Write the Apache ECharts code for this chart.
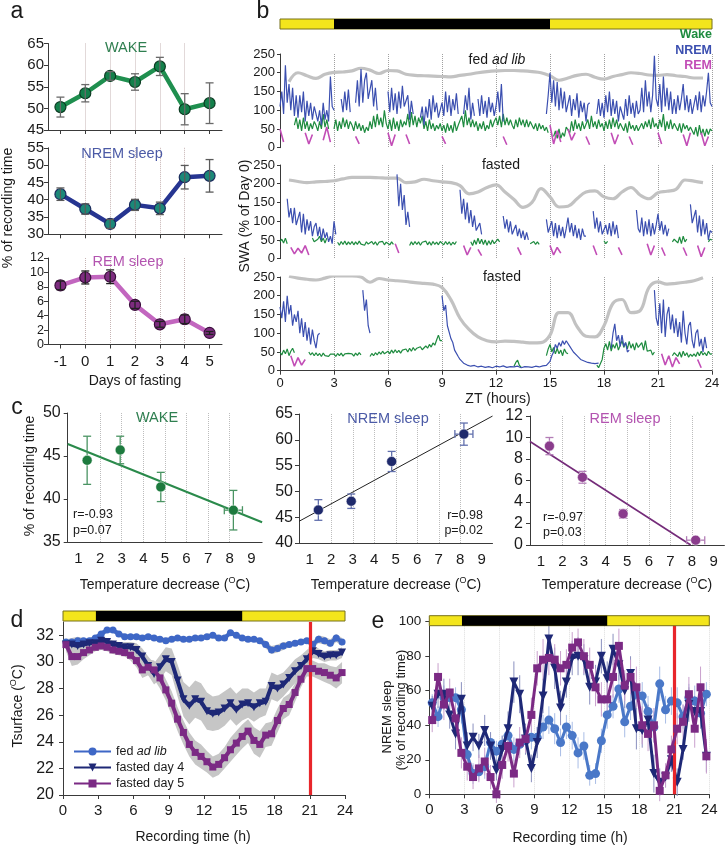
<!DOCTYPE html>
<html>
<head>
<meta charset="utf-8">
<script src="https://cdn.jsdelivr.net/npm/echarts@6/dist/echarts.min.js"></script>
<style>
html,body{margin:0;padding:0;background:#fff;}
#chart{width:727px;height:849px;}
</style>
</head>
<body>
<div id="chart"></div>
<script>
const _ = null;
/* ================= panel a ================= */
const fastDays = [-1, 0, 1, 2, 3, 4, 5];
const aRemTicks = [0, 2, 4, 6, 8, 10, 12];
const aWake = [50.3, 53.5, 57.5, 56.1, 59.7, 49.8, 51.2];
const aWakeErr = [2.3, 2.0, 1.0, 1.9, 2.1, 3.6, 4.7];
const aNrem = [41.6, 37.3, 33.0, 38.5, 37.5, 46.5, 46.9];
const aNremErr = [1.8, 1.5, 1.3, 1.6, 1.8, 3.4, 4.7];
const aRem = [8.2, 9.3, 9.4, 5.5, 2.8, 3.5, 1.6];
const aRemErr = [0.6, 0.9, 0.95, 0.5, 0.4, 0.6, 0.2];

/* ================= panel b ================= */
const bStep = 0.1;          // h between Wake / NREM SWA samples (one row = 1 h)
const bRemStep = 0.2;       // h between REM samples (one row = 1 h)
const bGrayStart = 0.5, bGrayStep = 0.5;
const bDark = [3, 15];
const bTopN = [
 110,150,90,220,120,170,100,160,85,140,
 80,140,95,150,70,125,85,120,75,110,
 110,70,100,60,120,75,100,70,190,110,
 100,_,_,_,130,95,150,100,155,95,
 _,_,120,180,110,210,120,180,200,130,
 130,180,110,160,100,_,_,_,_,_,
 150,95,160,100,145,90,150,105,165,110,
 110,140,75,125,90,_,_,_,80,110,
 60,110,80,130,75,140,95,120,80,100,
 120,85,150,95,140,85,130,100,145,90,
 _,_,90,140,100,160,75,120,85,_,
 130,85,140,90,125,80,135,95,120,85,
 110,150,95,170,70,_,_,_,_,_,
 _,_,_,_,_,_,_,_,_,_,
 _,_,_,_,_,_,_,_,90,140,
 200,120,180,110,175,100,160,105,150,95,
 90,140,85,130,100,145,80,125,95,120,
 70,115,120,_,_,_,90,130,85,120,
 80,140,95,150,85,130,90,125,70,110,
 110,75,130,85,140,90,120,80,125,90,
 100,160,95,180,110,150,95,140,245,130,
 110,170,95,190,110,160,100,150,90,130,
 90,140,100,130,170,100,140,95,130,90,
 90,140,100,150,95,140,110,150,200,120,
 110];
const bTopW = [
 _,_,_,_,_,_,_,_,60,80,
 50,75,45,80,50,70,45,65,50,70,
 60,45,70,50,90,55,75,50,_,_,
 50,75,45,70,50,80,55,75,50,70,
 60,45,70,50,65,45,60,40,55,45,
 70,50,85,55,90,60,80,55,100,65,
 50,75,45,80,50,70,45,75,55,70,
 60,90,55,95,60,85,55,80,65,85,
 50,70,45,75,50,65,45,60,50,65,
 45,60,40,65,45,60,40,70,45,60,
 60,85,55,100,60,80,55,75,55,70,
 45,65,50,70,45,60,50,75,55,70,
 80,60,85,55,90,60,80,60,75,60,
 50,75,55,80,60,75,55,75,55,70,
 70,50,65,45,65,50,60,45,55,40,
 _,_,30,45,25,50,25,40,30,55,
 60,40,70,45,75,50,65,45,70,50,
 55,75,50,85,55,70,50,75,55,65,
 45,70,50,75,50,80,55,75,50,65,
 60,45,65,40,70,50,60,45,60,45,
 45,65,50,70,55,75,50,80,55,65,
 50,75,55,90,45,70,50,75,50,65,
 60,45,65,40,65,50,60,45,55,45,
 35,55,30,60,35,50,30,50,35,50,
 45];
const bTopR = [50,15,_,_,_, _,_,40,10,35, _,_,20,55,15, _,_,_,_,_,
 _,30,10,_,_, _,_,_,_,_, 40,5,35,_,_, 35,10,_,_,_,
 _,_,_,_,_, 30,10,_,_,_, _,_,_,_,_, _,_,_,_,_,
 _,_,30,8,_, _,_,_,_,_, _,_,_,_,_, 60,10,45,15,_,
 50,20,40,_,_, 30,8,_,_,_, _,_,40,10,35, _,_,30,8,_,
 _,_,_,_,_, 40,10,_,_,_, _,_,35,5,40, _,_,40,5,30, _];
const bMidN = [
 _,_,_,_,160,110,135,95,136,90,
 90,125,70,120,65,105,75,100,60,85,
 95,60,85,50,80,55,70,45,60,40,
 100,65,_,_,_,_,_,_,_,_,
 _,_,_,_,_,_,_,_,_,_,
 _,_,_,_,_,_,_,_,_,_,
 _,_,_,_,_,225,140,200,130,170,
 90,125,85,_,_,_,_,_,_,_,
 _,_,_,_,_,_,_,_,_,_,
 _,_,_,_,_,_,_,_,_,_,
 184,120,160,105,150,95,130,85,115,75,
 70,95,65,_,_,_,_,_,_,_,
 _,_,_,_,114,80,105,70,100,65,
 70,90,60,80,55,75,50,70,50,_,
 _,_,_,_,_,_,_,_,105,70,
 70,100,60,95,55,90,60,85,55,80,
 110,70,95,60,90,55,80,50,80,60,
 60,_,_,_,127,80,110,70,100,65,
 60,90,65,95,60,100,65,90,55,_,
 _,_,_,_,_,_,_,_,130,80,
 70,110,60,100,65,105,60,95,65,90,
 120,75,100,65,90,60,80,_,_,_,
 _,_,_,_,_,_,_,_,145,95,
 90,130,70,115,60,105,65,95,50,75,
 70];
const bMidW = [
 45,52,42,55,40,_,_,_,_,_,
 _,_,_,_,_,_,_,_,55,45,
 40,52,60,45,55,42,55,_,_,_,
 _,_,44,36,46,38,47,37,45,38,
 46,37,45,38,47,39,44,36,45,39,
 37,46,38,45,36,44,39,46,37,44,
 42,37,45,38,_,_,_,_,_,_,
 _,_,35,45,37,46,38,45,36,44,
 40,47,37,45,36,46,38,44,37,46,
 45,37,46,38,45,36,44,38,46,_,
 _,_,_,_,_,_,45,35,50,38,
 55,40,52,38,50,36,48,38,50,40,
 40,52,45,_,_,_,_,_,_,_,
 _,_,_,_,_,_,_,_,_,40,
 40,46,38,45,38,_,_,_,_,_,
 _,_,_,_,_,_,_,_,_,_,
 _,_,_,_,_,_,_,_,_,_,
 _,_,_,_,_,_,_,_,_,_,
 48,40,46,_,_,_,_,_,_,_,
 _,_,_,_,_,_,_,_,_,_,
 _,_,_,_,_,_,_,_,_,_,
 _,_,_,_,_,_,_,_,45,52,
 55,42,58,40,60,45,52,_,_,_,
 _,_,_,_,_,_,_,_,45,52,
 50];
const bMidR = [_,_,_,30,13, 28,15,35,10,_, _,_,_,_,_, _,_,_,_,_,
 _,_,_,_,_, _,_,_,_,_, _,_,40,15,_, _,_,_,_,_,
 _,_,_,_,_, _,_,_,_,_, _,35,10,30,_, 25,8,_,_,_,
 _,_,_,_,_, _,30,10,_,_, _,_,_,_,_, 35,10,30,15,_,
 _,_,_,_,_, _,_,35,10,_, _,_,_,_,30, 10,_,_,_,_,
 _,_,40,10,35, _,30,8,_,_, _,_,30,8,_, _,35,5,30,_, _];
const bBotN = [
 170,140,185,130,200,150,175,120,150,130,
 160,100,140,90,130,80,115,70,110,80,
 60,95,100,_,_,_,_,_,_,_,
 _,_,_,_,_,_,_,_,_,_,
 _,_,_,_,_,_,215,160,190,120,
 100,_,_,_,_,_,_,_,_,_,
 _,_,_,_,_,_,_,_,_,_,
 _,_,_,_,_,_,_,_,_,_,
 _,_,_,_,_,_,_,_,_,_,
 200,160,175,120,120,85,75,55,50,38,
 30,25,20,18,15,13,12,14,14,11,
 10,12,12,9,9,11,11,8,8,10,
 12,11,10,12,13,10,9,11,11,12,
 10,11,12,9,8,10,11,12,10,9,
 9,10,12,11,10,12,13,12,14,18,
 25,40,50,70,60,75,65,80,70,80,
 75,65,70,50,55,40,40,30,32,26,
 25,22,24,20,22,19,23,20,_,_,
 _,_,_,_,60,100,125,80,95,65,
 95,65,75,50,55,_,_,_,_,_,
 _,_,_,_,_,_,_,_,215,140,
 120,180,100,190,90,150,170,110,150,100,
 140,90,130,75,160,100,70,120,130,80,
 60,100,110,65,85,50,90,60,_,_,
 _];
const bBotW = [
 50,42,55,45,58,40,52,60,48,_,
 _,_,_,_,_,_,50,42,48,40,
 48,40,46,38,47,40,45,38,44,40,
 44,38,46,40,47,39,45,40,46,41,
 45,39,47,41,48,42,_,_,_,_,
 38,46,40,48,42,50,44,52,45,50,
 52,45,55,47,56,48,54,47,55,50,
 58,50,60,52,62,54,60,55,64,56,
 58,66,60,70,63,74,68,82,95,80,
 80,_,_,_,_,_,_,_,_,_,
 _,_,_,_,_,_,_,_,_,_,
 _,_,_,_,_,_,_,_,_,_,
 _,_,_,_,_,_,_,_,_,_,
 12,22,28,14,10,_,_,_,_,_,
 _,_,_,_,_,_,_,_,40,58,
 70,50,62,45,60,45,55,40,58,48,
 45,_,_,_,_,_,_,_,_,_,
 _,_,_,_,_,_,15,8,5,30,
 60,72,55,78,52,70,60,75,55,68,
 80,62,75,58,78,60,72,55,75,62,
 60,75,55,80,52,48,55,42,50,_,
 _,_,_,_,_,_,_,_,40,48,
 45,38,50,36,52,40,48,36,44,38,
 45,38,50,40,52,42,48,40,52,44,
 45];
const bBotR = [_,_,_,40,12, 35,15,30,_,_, _,_,_,_,_, _,_,_,_,_,
 _,_,_,_,_, _,_,_,_,_, _,_,_,_,_, _,_,_,_,_,
 _,_,_,_,_, _,_,_,_,_, _,_,_,_,_, _,_,_,_,_,
 _,_,_,_,_, _,_,_,_,_, _,_,_,_,_, _,_,_,_,_,
 _,_,_,_,_, _,_,_,_,_, _,_,_,_,_, _,_,_,_,_,
 _,_,_,_,_, _,45,15,40,10, 35,18,_,_,_, _,30,8,_,_, _];
const bGrayTop = [176,200,192,185,196,201,202,205,212,207,198,206,205,196,193,192,191,190,189,193,196,200,203,205,206,206,205,203,200,192,180,186,193,196,188,183,190,195,200,198,194,193,195,192,190,186,186];
const bGrayMid = [210,206,203,205,206,208,213,217,217,217,216,215,215,203,205,212,208,205,203,195,173,178,190,197,178,158,137,150,187,165,138,140,160,178,181,165,160,178,190,170,160,176,180,185,210,207,203];
const bGrayBot = [252,247,244,242,247,253,253,253,250,236,246,242,240,238,235,233,231,222,189,140,110,90,80,77,79,78,76,74,75,95,155,155,118,92,90,120,180,190,155,160,222,237,231,233,236,240,248];

/* ================= panel c ================= */
const cTicks = [1, 2, 3, 4, 5, 6, 7, 8, 9];
const tempDrop = [1.4, 2.93, 4.81, 8.17];
const tempDropErr = [0, 0, 0, 0.42];
const cWake = [44.5, 45.7, 41.4, 38.7];
const cWakeErr = [2.8, 1.6, 1.7, 2.3];
const cNrem = [46.4, 48.1, 55.8, 61.1];
const cNremErr = [2.0, 1.4, 1.95, 2.15];
const cRem = [9.2, 6.3, 2.9, 0.45];
const cRemErr = [0.8, 0.55, 0.4, 0.1];
const cWakeFit = [[0.5, 46.4], [9.5, 37.3]];
const cNremFit = [[0.5, 44.2], [9.5, 64.6]];
const cRemFit = [[0.5, 9.63], [7.94, 0]];

/* ================= panels d, e ================= */
const binStart = 0.25, binWidth = 0.5;
const deDark = [2.8, 15.25];
const redLineT = 21;
const dTicksY = [20, 22, 24, 26, 28, 30, 32];
const dFed = [31.5,31.5,31.6,31.6,31.6,31.8,32.1,32.4,32.4,32.1,31.9,31.9,31.9,31.8,31.9,31.8,31.7,31.6,31.7,31.8,31.7,31.7,31.8,31.8,31.9,32.0,31.8,31.8,32.2,32.0,31.8,31.7,31.7,31.6,31.3,30.9,31.0,31.2,31.3,31.4,31.5,31.6,31.3,31.7,31.6,31.4,31.8,31.5];
const dFedSem = [0.2,0.3,0.3,0.2,0.2,0.2,0.2,0.2,0.2,0.2,0.2,0.2,0.2,0.2,0.2,0.2,0.2,0.2,0.2,0.2,0.2,0.2,0.2,0.2,0.2,0.2,0.2,0.2,0.2,0.2,0.2,0.2,0.2,0.2,0.3,0.3,0.3,0.3,0.2,0.2,0.2,0.2,0.3,0.3,0.3,0.3,0.3,0.3];
const dDay4 = [31.3,31.3,31.2,31.3,31.4,31.4,31.6,31.5,31.3,31.2,31.1,31.1,30.9,30.4,29.7,29.1,29.6,30.2,30.0,28.6,27.2,26.7,27.2,27.0,26.3,26.1,26.2,26.5,26.9,26.4,26.8,26.9,26.6,26.9,27.0,28.2,28.0,28.3,28.8,29.3,29.7,30.2,30.8,30.6,30.4,30.5,30.5,30.7];
const dDay4Sem = [0.3,0.3,0.3,0.3,0.3,0.3,0.3,0.3,0.3,0.3,0.4,0.4,0.5,0.6,0.7,0.8,0.9,0.9,1.0,1.2,1.3,1.4,1.4,1.4,1.4,1.3,1.3,1.3,1.2,1.2,1.2,1.1,1.1,1.1,1.0,1.0,1.0,0.9,0.9,0.9,0.8,0.7,0.5,0.4,0.4,0.4,0.4,0.4];
const dDay5 = [31.3,30.4,30.4,30.7,30.9,31.1,31.2,31.1,30.9,30.8,30.7,30.5,30.1,29.4,29.6,29.4,28.8,27.9,26.9,25.7,24.7,23.8,23.2,22.9,22.5,22.1,22.3,22.8,23.4,23.9,24.4,24.8,24.1,23.8,24.5,24.6,25.6,26.5,26.8,27.7,28.7,29.5,29.5,29.3,29.2,29.0,28.8,29.2];
const dDay5Sem = [0.5,0.7,0.6,0.5,0.4,0.3,0.3,0.3,0.3,0.3,0.3,0.4,0.5,0.6,0.6,0.7,0.8,0.8,0.9,0.9,0.9,0.9,0.9,0.9,0.8,0.8,0.8,0.8,0.9,0.9,0.9,0.9,1.0,1.0,0.9,0.9,0.9,0.8,0.8,0.7,0.6,0.6,0.6,0.6,0.7,0.7,0.8,0.8];
const eFed = [53,45,56,56,56,49,23,12,13,16,30,25,29,34,26,29,31,33,33,39,43,38,30,39,34,24,28,11,12,31,46,51,61,42,51,58,57,48,39,64,49,54,53,45,56,54,47,58];
const eFedSem = [5,6,7,5,6,8,8,6,5,7,6,6,5,6,7,6,8,7,6,7,8,9,8,7,8,9,8,6,6,7,8,7,8,9,8,7,8,9,9,10,8,8,9,7,8,9,8,7];
const eDay4 = [51,58,58,46,35,55,28,33,28,37,28,14,26,38,65,58,32,15,30,57,90,73,50,65,79,80,78,62,65,80,67,84,75,60,70,38,37,43,12,7,10,20,7,26,52,48,48,22];
const eDay4Sem = [6,8,9,8,9,10,8,8,7,9,8,6,8,10,12,11,9,8,9,10,8,12,10,9,10,11,9,10,10,10,10,9,9,10,10,12,10,9,11,8,6,7,8,6,10,9,10,9];
const eDay5 = [43,68,52,59,44,24,16,10,15,19,10,0,17,28,12,30,32,46,73,78,79,78,73,75,85,88,80,75,62,55,55,68,86,63,68,62,40,35,40,2,11,26,38,42,58,38,62,22];
const eDay5Sem = [7,8,9,8,9,9,8,7,8,8,7,5,8,9,8,9,8,10,10,12,10,9,10,9,9,8,10,10,11,10,10,12,10,9,10,12,11,10,10,6,7,8,9,10,10,11,12,10];

/* ================= helpers ================= */
const FONT = '"Liberation Sans", Arial, Helvetica, sans-serif';
const AXC = '#3a3a3a', TXT = '#1a1a1a';
const C = {
  wake:'#1e8b3f', nrem:'#3b4fb0', rem:'#c24db6',
  fed:'#3e67c6', d4:'#1e2876', d5:'#7b2a84'
};
const binT = dFed.map((v, i) => binStart + i * binWidth);
const stepPts = (arr, step) => arr.map((v, i) => [Math.round(i * step * 100) / 100, v === null ? '-' : v]);
const gPts = arr => arr.map((v, i) => [bGrayStart + i * bGrayStep, v]);

function errItem(color, cap, lw) {
  return function (params, api) {
    const x = api.value(0), y = api.value(1);
    const lo = api.coord([x, api.value(2)]), hi = api.coord([x, api.value(3)]);
    const st = {stroke: color, lineWidth: lw};
    const ch = [{type:'line', shape:{x1:lo[0], y1:lo[1], x2:hi[0], y2:hi[1]}, style:st}];
    if (cap > 0) {
      ch.push({type:'line', shape:{x1:lo[0]-cap, y1:lo[1], x2:lo[0]+cap, y2:lo[1]}, style:st});
      ch.push({type:'line', shape:{x1:hi[0]-cap, y1:hi[1], x2:hi[0]+cap, y2:hi[1]}, style:st});
    }
    const xl = api.value(4), xh = api.value(5);
    if (xh > xl) {
      const l = api.coord([xl, y]), h = api.coord([xh, y]);
      ch.push({type:'line', shape:{x1:l[0], y1:l[1], x2:h[0], y2:h[1]}, style:st});
      ch.push({type:'line', shape:{x1:l[0], y1:l[1]-cap, x2:l[0], y2:l[1]+cap}, style:st});
      ch.push({type:'line', shape:{x1:h[0], y1:h[1]-cap, x2:h[0], y2:h[1]+cap}, style:st});
    }
    return {type:'group', children: ch};
  };
}
function errSeries(gi, xs, ys, es, xes, color, cap, lw, z) {
  return {type:'custom', xAxisIndex:gi, yAxisIndex:gi, z, silent:true, clip:false,
    renderItem: errItem(color, cap, lw),
    data: xs.map((x, i) => [x, ys[i], ys[i]-es[i], ys[i]+es[i], x-(xes ? xes[i] : 0), x+(xes ? xes[i] : 0)])};
}
function lightBar(gi, dark) {
  return {type:'custom', xAxisIndex:gi, yAxisIndex:gi, z:20, silent:true, clip:false,
    data:[[0, 24, 0], [dark[0], dark[1], 1]],
    renderItem: (p, api) => {
      const p0 = api.coord([api.value(0), 1]), p1 = api.coord([api.value(1), 0]);
      return {type:'rect', shape:{x:p0[0], y:p0[1], width:p1[0]-p0[0], height:p1[1]-p0[1]},
        style: api.value(2) ? {fill:'#000'} : {fill:'#f3e51c', stroke:'#77701a', lineWidth:1}};
    }};
}
function band(gi, mean, sem, z) {
  return {type:'custom', xAxisIndex:gi, yAxisIndex:gi, z, silent:true, data:[[0, 0]],
    renderItem: (p, api) => {
      const up = mean.map((m, i) => api.coord([binT[i], m + sem[i]]));
      const lo = mean.map((m, i) => api.coord([binT[i], m - sem[i]])).reverse();
      return {type:'polygon', shape:{points: up.concat(lo)}, style:{fill:'#c6c6c6'}};
    }};
}
function hidden(gi, min, max) { return {type:'value', gridIndex:gi, min, max, show:false}; }
function yAx(gi, min, max, iv, fs, margin, extra) {
  return Object.assign({type:'value', gridIndex:gi, min, max, interval:iv,
    axisLine:{show:true, onZero:false, lineStyle:{color:AXC, width:1}},
    axisTick:{show:true, inside:false, length:4, lineStyle:{color:AXC}},
    axisLabel:{show:true, interval:0, showMinLabel:true, showMaxLabel:true, hideOverlap:false,
      fontSize:fs, lineHeight:Math.round(fs * 0.8), color:TXT, margin, fontFamily:FONT},
    splitLine:{show:false}}, extra || {});
}
const isInt = v => Math.abs(v - Math.round(v)) < 1e-6;
function txt(x, y, text, o) {
  o = o || {};
  const st = {text, fill:o.color || TXT, fontSize:o.size || 14, fontFamily:FONT,
    fontWeight:o.weight || 'normal', fontStyle:o.italic ? 'italic' : 'normal',
    align:o.align || 'center', textAlign:o.align || 'center',
    verticalAlign:'middle', textVerticalAlign:'middle'};
  if (o.rich) st.rich = o.rich;
  return {type:'text', x, y, rotation:o.rot || 0, silent:true, z:100, style:st};
}
const supRich = (fs) => ({
  n:{fontSize:fs, fontFamily:FONT, color:TXT, lineHeight:fs + 3},
  s:{fontSize:Math.round(fs * 0.65), fontFamily:FONT, color:TXT, lineHeight:Math.round(fs * 0.65), verticalAlign:'top'}
});

/* ================= grids ================= */
const G = [
  {left:48, top:43.5, width:174, height:86.5},     // 0 a wake
  {left:48, top:147.8, width:174, height:86.5},    // 1 a nrem
  {left:48, top:258, width:174, height:86.5},      // 2 a rem
  {left:280, top:19, width:432, height:10},        // 3 b bar
  {left:280, top:54, width:432, height:93.7},      // 4 b top
  {left:280, top:165, width:432, height:93.7},     // 5 b mid
  {left:280, top:277, width:432, height:93.7},     // 6 b bot
  {left:67.7, top:413, width:194.4, height:129},   // 7 c wake
  {left:299, top:414, width:193.5, height:129},    // 8 c nrem
  {left:530, top:416, width:194.4, height:129},    // 9 c rem
  {left:63, top:611, width:282, height:10},        // 10 d bar
  {left:63, top:622, width:282, height:173},       // 11 d
  {left:429.3, top:615.7, width:280, height:10},   // 12 e bar
  {left:429.3, top:621.7, width:280, height:172.6} // 13 e
].map(g => Object.assign({containLabel:false, outerBoundsMode:'none', show:false}, g));

const xA = [], yA = [];
// panel a
for (let gi = 0; gi < 3; gi++) {
  xA.push({type:'value', gridIndex:gi, min:-1.5, max:5.5, splitNumber:7,
    axisLine:{show:true, onZero:false, lineStyle:{color:AXC}},
    axisTick:{show:true, inside:false, length:4, customValues:fastDays, lineStyle:{color:AXC}},
    axisLabel:{show:gi === 2, customValues:fastDays, fontSize:15, color:TXT, margin:10, fontFamily:FONT,
      formatter: v => isInt(v) ? String(Math.round(v)) : ''},
    splitLine:{show:true, showMinLine:false, showMaxLine:false, lineStyle:{color:'#c6b4b4', type:'dotted', width:1}}});
}
yA.push(yAx(0, 45, 65, 5, 15, 4));
yA.push(yAx(1, 30, 55, 5, 15, 4));
yA.push(yAx(2, 0, 12, 2, 12, 4, {
  axisTick:{show:true, inside:false, length:4, customValues:aRemTicks, lineStyle:{color:AXC}},
  axisLabel:{show:true, interval:0, customValues:aRemTicks, showMinLabel:true, showMaxLabel:true, hideOverlap:false,
    minMargin:0, fontSize:12.5, lineHeight:10, color:TXT, margin:4, fontFamily:FONT}}));
// panel b
xA.push(hidden(3, 0, 24)); yA.push(hidden(3, 0, 1));
for (let gi = 4; gi <= 6; gi++) {
  const last = gi === 6;
  xA.push({type:'value', gridIndex:gi, min:0, max:24, interval:3,
    axisLine:{show:last, onZero:false, lineStyle:{color:AXC}},
    axisTick:{show:last, inside:false, length:4, lineStyle:{color:AXC}},
    axisLabel:{show:last, fontSize:13, color:TXT, margin:6, fontFamily:FONT},
    splitLine:{show:true, showMinLine:false, lineStyle:{color:'#a0a0a0', type:'dotted', width:1}}});
  yA.push(yAx(gi, 0, 250, 50, 13, 5, {axisTick:{show:true, inside:false, length:3, lineStyle:{color:AXC}}}));
}
// panel c
for (let gi = 7; gi <= 9; gi++) {
  xA.push({type:'value', gridIndex:gi, min:0.5, max:9.5, splitNumber:9,
    axisLine:{show:true, onZero:false, lineStyle:{color:AXC}},
    axisTick:{show:false, customValues:cTicks},
    axisLabel:{show:true, customValues:cTicks, fontSize:15, color:TXT, margin:9, fontFamily:FONT,
      formatter: v => isInt(v) ? String(Math.round(v)) : ''},
    splitLine:{show:true, showMinLine:false, showMaxLine:false, lineStyle:{color:'#bdbdbd', type:'dotted', width:1}}});
}
yA.push(yAx(7, 35, 50, 5, 16, 7));
yA.push(yAx(8, 40, 65, 5, 16, 6));
yA.push(yAx(9, 0, 12, 2, 16, 7));
// panel d
xA.push(hidden(10, 0, 24)); yA.push(hidden(10, 0, 1));
xA.push({type:'value', gridIndex:11, min:0, max:24, interval:3,
  axisLine:{show:true, onZero:false, lineStyle:{color:AXC}},
  axisTick:{show:true, inside:false, length:4, lineStyle:{color:AXC}},
  axisLabel:{fontSize:15, color:TXT, margin:8, fontFamily:FONT}, splitLine:{show:false}});
yA.push(yAx(11, 20, 33, 2, 16, 9, {
  axisTick:{show:true, inside:false, length:4, customValues:dTicksY, lineStyle:{color:AXC}},
  axisLabel:{show:true, interval:0, customValues:dTicksY, showMinLabel:true, fontSize:16, color:TXT, margin:9, fontFamily:FONT,
    formatter: v => (v <= 32 ? String(v) : '')}}));
// panel e
xA.push(hidden(12, 0, 24)); yA.push(hidden(12, 0, 1));
xA.push({type:'value', gridIndex:13, min:0, max:24, interval:3,
  axisLine:{show:true, onZero:false, lineStyle:{color:AXC}},
  axisTick:{show:true, inside:false, length:4, lineStyle:{color:AXC}},
  axisLabel:{fontSize:15, color:TXT, margin:8, fontFamily:FONT},
  splitLine:{show:true, showMinLine:false, lineStyle:{color:'#dcdcdc', type:'dotted', width:1}}});
yA.push(yAx(13, 0, 100, 20, 13.5, 8));

/* ================= series ================= */
const S = [];
// ---- a
const aSets = [
  [0, aWake, aWakeErr, '#1f8f4f', '#13804b', '#0c3b22', '#6a6a6a'],
  [1, aNrem, aNremErr, '#263591', '#1b8878', '#1b2a5c', '#5a5a5a'],
  [2, aRem, aRemErr, '#c266bf', '#7d2c7f', '#3a0e3c', '#222222']
];
aSets.forEach(([gi, v, e, lc, mc, bc, ec]) => {
  S.push(errSeries(gi, fastDays, v, e, null, ec, 4, 1.3, 3));
  S.push({type:'line', xAxisIndex:gi, yAxisIndex:gi, z:2, silent:true,
    data: fastDays.map((d, i) => [d, v[i]]),
    symbol:'circle', symbolSize:11, showSymbol:true,
    lineStyle:{color:lc, width:4.5}, itemStyle:{color:mc, borderColor:bc, borderWidth:1.2}});
});
// ---- b
S.push(lightBar(3, bDark));
const bSets = [[4, bGrayTop, bTopW, bTopN, bTopR], [5, bGrayMid, bMidW, bMidN, bMidR], [6, bGrayBot, bBotW, bBotN, bBotR]];
bSets.forEach(([gi, g, w, n, r]) => {
  S.push({type:'line', xAxisIndex:gi, yAxisIndex:gi, z:1, silent:true, data:gPts(g), smooth:0.4,
    showSymbol:false, lineStyle:{color:'#c2c2c2', width:3.2}});
  S.push({type:'line', xAxisIndex:gi, yAxisIndex:gi, z:2, silent:true, data:stepPts(w, bStep),
    showSymbol:false, connectNulls:false, sampling:false, lineStyle:{color:C.wake, width:1.2}});
  S.push({type:'line', xAxisIndex:gi, yAxisIndex:gi, z:3, silent:true, data:stepPts(n, bStep),
    showSymbol:false, connectNulls:false, sampling:false, lineStyle:{color:C.nrem, width:1.2}});
  S.push({type:'line', xAxisIndex:gi, yAxisIndex:gi, z:4, silent:true, data:stepPts(r, bRemStep),
    showSymbol:false, connectNulls:false, lineStyle:{color:C.rem, width:1.6}});
});
// ---- c
const cSets = [
  [7, cWake, cWakeErr, cWakeFit, '#1d7a3e', '#2a8a4b', 2, '#4a9463'],
  [8, cNrem, cNremErr, cNremFit, '#1f2a6c', '#222222', 1, '#6270ad'],
  [9, cRem, cRemErr, cRemFit, '#8a3c8c', '#742b79', 1.6, '#b27db6']
];
cSets.forEach(([gi, v, e, fit, mc, lc, lw, ec]) => {
  S.push({type:'line', xAxisIndex:gi, yAxisIndex:gi, z:1, silent:true, data:fit,
    showSymbol:false, lineStyle:{color:lc, width:lw}});
  S.push(errSeries(gi, tempDrop, v, e, tempDropErr, ec, 4, 1.3, 2));
  S.push({type:'scatter', xAxisIndex:gi, yAxisIndex:gi, z:3, silent:true,
    data: tempDrop.map((t, i) => [t, v[i]]), symbol:'circle', symbolSize:10,
    itemStyle:{color:mc, borderColor:'#ffffff', borderWidth:0.5, opacity:1}});
});
// ---- d
S.push(lightBar(10, deDark));
S.push(band(11, dFed, dFedSem, 1));
S.push(band(11, dDay4, dDay4Sem, 1));
S.push(band(11, dDay5, dDay5Sem, 1));
const dLine = (name, v, color, symbol, rot, z, size) => ({
  name, type:'line', xAxisIndex:11, yAxisIndex:11, z, silent:true,
  data: binT.map((t, i) => [t, v[i]]), symbol, symbolRotate:rot, symbolSize:size, showSymbol:true,
  lineStyle:{color, width:4}, itemStyle:{color, borderWidth:0}});
S.push(dLine('fed ad lib', dFed, C.fed, 'circle', 0, 3, 7));
S.push(dLine('fasted day 4', dDay4, C.d4, 'triangle', 180, 4, 8));
S.push(Object.assign(dLine('fasted day 5', dDay5, C.d5, 'rect', 0, 5, 7), {
  markLine:{silent:true, symbol:['none', 'none'], label:{show:false},
    lineStyle:{color:'#e8262b', width:3.2, type:'solid'}, data:[{xAxis: redLineT}]}}));
// ---- e
S.push(lightBar(12, deDark));
S.push(errSeries(13, binT, eFed, eFedSem, null, '#a9bde6', 0, 1, 1));
S.push(errSeries(13, binT, eDay4, eDay4Sem, null, '#8a90bf', 0, 1, 1));
S.push(errSeries(13, binT, eDay5, eDay5Sem, null, '#c9a0cd', 0, 1, 1));
const eLine = (name, v, color, symbol, rot, z, size) => ({
  name, type:'line', xAxisIndex:13, yAxisIndex:13, z, silent:true,
  data: binT.map((t, i) => [t, v[i]]), symbol, symbolRotate:rot, symbolSize:size, showSymbol:true,
  lineStyle:{color, width:3}, itemStyle:{color, borderWidth:0}});
S.push(eLine('fed ad lib', eFed, '#4a78c8', 'circle', 0, 3, 9));
S.push(eLine('fasted day 4', eDay4, C.d4, 'triangle', 180, 4, 9));
S.push(Object.assign(eLine('fasted day 5', eDay5, C.d5, 'rect', 0, 5, 8), {
  markLine:{silent:true, symbol:['none', 'none'], label:{show:false},
    lineStyle:{color:'#e8262b', width:3.2, type:'solid'}, data:[{xAxis: redLineT}]}}));

/* ================= texts ================= */
const tempTitle = '{n|Temperature decrease (}{s|O}{n|C)}';
const T = [
  txt(17, 12, 'a', {size:23}),
  txt(126, 48, 'WAKE', {color:'#2f7f50', size:14.5}),
  txt(122, 154, 'NREM sleep', {color:'#4b5aa6', size:14.5}),
  txt(128, 262, 'REM sleep', {color:'#b354b0', size:14.5}),
  txt(8, 208, '% of recording time', {rot:Math.PI / 2, size:14}),
  txt(135, 381, 'Days of fasting', {size:14}),

  txt(263, 12, 'b', {size:23}),
  txt(497, 60, '{n|fed }{i|ad lib}', {rich:{n:{fontSize:14, fontFamily:FONT, color:TXT}, i:{fontSize:14, fontFamily:FONT, color:TXT, fontStyle:'italic'}}}),
  txt(501, 165, 'fasted', {size:14}),
  txt(502, 277, 'fasted', {size:14}),
  txt(712, 35, 'Wake', {color:C.wake, size:12.5, weight:'bold', align:'right'}),
  txt(712, 51, 'NREM', {color:C.nrem, size:12.5, weight:'bold', align:'right'}),
  txt(712, 66, 'REM', {color:C.rem, size:12.5, weight:'bold', align:'right'}),
  txt(245, 216, 'SWA (% of Day 0)', {rot:Math.PI / 2, size:14}),
  txt(498, 399, 'ZT (hours)', {size:14}),

  txt(17, 408, 'c', {size:23}),
  txt(157, 418, 'WAKE', {color:'#2f7f50', size:14.5}),
  txt(388, 419, 'NREM sleep', {color:'#4b5aa6', size:14.5}),
  txt(625, 419, 'REM sleep', {color:'#b354b0', size:14.5}),
  txt(30, 476, '% of recording time', {rot:Math.PI / 2, size:14}),
  txt(73, 515, 'r=-0.93', {size:12.5, align:'left'}),
  txt(73, 531, 'p=0.07', {size:12.5, align:'left'}),
  txt(483, 516, 'r=0.98', {size:12.5, align:'right'}),
  txt(483, 531, 'p=0.02', {size:12.5, align:'right'}),
  txt(543, 518, 'r=-0.97', {size:12.5, align:'left'}),
  txt(543, 533, 'p=0.03', {size:12.5, align:'left'}),
  txt(165, 585, tempTitle, {rich:supRich(14)}),
  txt(396, 585, tempTitle, {rich:supRich(14)}),
  txt(627, 585, tempTitle, {rich:supRich(14)}),

  txt(17, 621, 'd', {size:23}),
  txt(18, 706, '{n|Tsurface (}{s|O}{n|C)}', {rot:Math.PI / 2, rich:supRich(14)}),
  txt(193, 837, 'Recording time (h)', {size:14}),

  txt(378, 622, 'e', {size:23}),
  txt(387, 717, 'NREM sleep', {rot:Math.PI / 2, size:13}),
  txt(401, 710, '(% of recording time)', {rot:Math.PI / 2, size:13}),
  txt(570, 838, 'Recording time (h)', {size:14})
];

const option = {
  animation:false,
  backgroundColor:'#ffffff',
  textStyle:{fontFamily:FONT},
  grid:G, xAxis:xA, yAxis:yA, series:S,
  legend:{
    data:['fed ad lib', 'fasted day 4', 'fasted day 5'],
    orient:'vertical', left:73, top:744, itemWidth:37, itemHeight:10, itemGap:1,
    selectedMode:false, padding:0,
    textStyle:{fontSize:12.5, fontFamily:FONT, color:TXT, lineHeight:15,
      rich:{i:{fontSize:12.5, fontFamily:FONT, color:TXT, fontStyle:'italic', lineHeight:15}}},
    formatter: n => n === 'fed ad lib' ? 'fed {i|ad lib}' : n
  },
  graphic:{elements:T}
};
const chart = echarts.init(document.getElementById('chart'), null, {renderer:'canvas'});
chart.setOption(option);
</script>
</body>
</html>
